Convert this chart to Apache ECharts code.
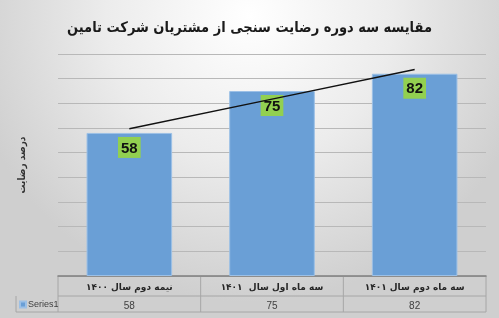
<!DOCTYPE html>
<html><head><meta charset="utf-8">
<script src="https://cdn.jsdelivr.net/npm/echarts@6/dist/echarts.min.js"></script>
<style>html,body{margin:0;padding:0;}#c{width:499px;height:318px;}</style>
</head><body><div id="c"></div>
<script>
const titleText = 'مقایسه سه دوره رضایت سنجی از مشتریان شرکت تامین';
const yAxisTitle = 'درصد رضایت';
const categories = ['نیمه دوم سال ۱۴۰۰', 'سه ماه اول سال  ۱۴۰۱', 'سه ماه دوم سال ۱۴۰۱'];
const seriesName = 'Series1';
const values = [58, 75, 82];
const trendValues = [59.7, 71.7, 83.7];

const G = {left: 58, right: 13, top: 54, bottom: 42};
const W = 499, H = 318;
const x0 = G.left, x1 = W - G.right, yAxis = H - G.bottom;
const row1 = yAxis + 20, row2 = yAxis + 36;
const colW = (x1 - x0) / categories.length;
const lineStyle = {stroke: '#a6a6a6', lineWidth: 1};
const graphics = [];
function ln(ax, ay, bx, by) { graphics.push({type: 'line', silent: true, shape: {x1: ax, y1: ay, x2: bx, y2: by}, style: lineStyle}); }
ln(x0, row1, x1, row1);
ln(16, row2, x1, row2);
ln(16, row1, 16, row2);
for (let i = 0; i <= categories.length; i++) ln(x0 + i * colW, yAxis, x0 + i * colW, row2);

const CF = '"DejaVu Sans Condensed", "DejaVu Sans", sans-serif';
const chart = echarts.init(document.getElementById('c'));
chart.setOption({
  animation: false,
  backgroundColor: {type: 'radial', x: 0.5, y: 0.05, r: 0.9, colorStops: [{offset: 0, color: '#ffffff'}, {offset: 0.5, color: '#ececec'}, {offset: 1, color: '#cfcfcf'}]},
  title: {text: titleText, left: 'center', top: 16, textStyle: {fontFamily: CF, fontWeight: 'bold', fontSize: 14.5, color: '#1a1a1a'}},
  legend: {left: 14, top: row1 - 1, icon: 'rect', itemWidth: 6, itemHeight: 6, itemGap: 2, data: [seriesName], textStyle: {fontSize: 9, color: '#404040', padding: [0,0,0,-3]}},
  grid: {left: G.left, right: G.right, top: G.top, bottom: G.bottom},
  xAxis: [
    {type: 'category', data: categories, position: 'bottom', axisLine: {lineStyle: {color: '#7f7f7f', width: 1.5}}, axisTick: {show: false},
     axisLabel: {interval: 0, margin: 7, fontSize: 9, fontWeight: 'bold', color: '#262626', fontFamily: '"DejaVu Sans", sans-serif'}},
    {type: 'category', data: values.map(String), position: 'bottom', offset: 19, axisLine: {show: false}, axisTick: {show: false},
     axisLabel: {interval: 0, margin: 6, fontSize: 10, color: '#404040'}}
  ],
  yAxis: {type: 'value', min: 0, max: 90, interval: 10, axisLabel: {show: false}, axisLine: {show: false}, axisTick: {show: false},
    splitLine: {lineStyle: {color: '#b8b8b8', width: 1}},
    name: yAxisTitle, nameLocation: 'middle', nameRotate: 90, nameGap: 31,
    nameTextStyle: {fontSize: 10, fontWeight: 'bold', color: '#333', fontFamily: CF}},
  series: [
    {name: seriesName, type: 'bar', data: values, barCategoryGap: '40%',
     itemStyle: {color: '#6a9fd6', borderColor: '#9cc0e6', borderWidth: 1},
     label: {show: true, position: 'insideTop', distance: 4, backgroundColor: '#92d050', padding: [4, 3, 2, 3],
       color: '#111', fontWeight: 'bold', fontSize: 15, fontFamily: 'Liberation Sans'}},
    {name: 'trend', type: 'line', data: trendValues, symbol: 'none', z: 5, silent: true,
     lineStyle: {color: '#111', width: 1.5}}
  ],
  graphic: graphics
});
</script></body></html>
